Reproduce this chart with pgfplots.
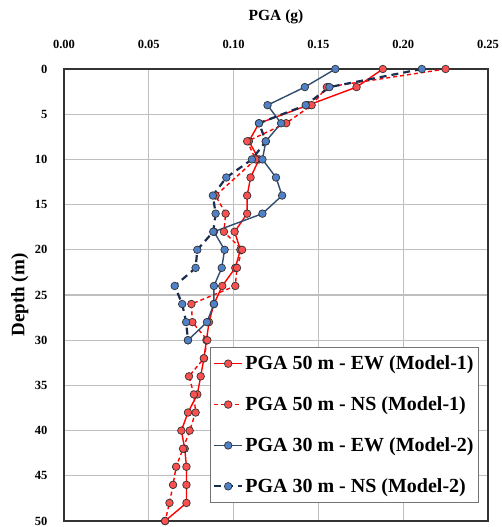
\documentclass[border=0pt]{standalone}
\usepackage{fontspec}
\setmainfont{Liberation Serif}
\usepackage{pgfplots}
\pgfplotsset{compat=1.18}
\definecolor{redline}{RGB}{255,0,0}
\definecolor{redfill}{RGB}{250,80,80}
\definecolor{bluefill}{RGB}{79,129,200}
\definecolor{blueline}{RGB}{50,76,110}
\definecolor{navyline}{RGB}{25,45,80}
\definecolor{gridgray}{RGB}{190,190,190}

\begin{document}
\begin{tikzpicture}
\begin{axis}[
    scale only axis,
    width=424pt, height=452pt,
    xmin=0, xmax=0.25, ymin=0, ymax=50,
    y dir=reverse,
    xtick={0,0.05,0.10,0.15,0.20,0.25},
    ytick={0,5,10,15,20,25,30,35,40,45,50},
    xticklabel pos=top,
    grid=major,
    grid style={gridgray, line width=1.1pt},
    major tick length=0pt,
    axis line style={black!80, line width=1.3pt},
    /pgf/number format/assume math mode=true,
    xticklabel={\pgfmathprintnumber[fixed,fixed zerofill,precision=2]{\tick}},
    ticklabel style={font=\bfseries\fontsize{12.5}{14}\selectfont},
    xticklabel style={yshift=17pt},
    yticklabel style={xshift=-13pt},
    xlabel={PGA (g)},
    ylabel={Depth (m)},
    xlabel style={at={(axis description cs:0.5,1.115)}, anchor=center,
        font=\bfseries\fontsize{15.5}{18}\selectfont},
    ylabel style={at={(axis description cs:-0.104,0.5)}, anchor=center,
        font=\bfseries\fontsize{19}{22}\selectfont},
    clip=false,
    legend style={at={(axis description cs:0.979,0.385)}, anchor=north east,
        draw=black!55, line width=1pt, fill=white,
        font=\bfseries\fontsize{20}{24}\selectfont,
        row sep=21.5pt, inner xsep=3pt, inner ysep=6.5pt},
    legend cell align=left,
    legend image code/.code={\draw[mark repeat=2,mark phase=2] plot coordinates {(0pt,0pt) (14pt,0pt) (28pt,0pt)};},
]
\addplot[redline, line width=1.4pt, mark=*, mark size=3.8pt,
    mark options={solid, fill=redfill, draw=black!80, line width=0.7pt}] coordinates {
(0.188,0) (0.1725,2) (0.144,4) (0.115,6) (0.109,8) (0.115,10) (0.110,12) (0.108,14)
(0.108,16) (0.1006,18) (0.104,20) (0.101,22) (0.0933,24) (0.0884,26) (0.0855,28)
(0.084,30) (0.0825,32) (0.0806,34) (0.0786,36) (0.0731,38) (0.0692,40) (0.0712,42)
(0.0722,44) (0.0722,46) (0.0722,48) (0.0596,50)};
\addplot[redline, line width=1.4pt, dash pattern=on 4pt off 3pt, mark=*, mark size=3.8pt,
    mark options={solid, fill=redfill, draw=black!80, line width=0.7pt}] coordinates {
(0.225,0) (0.155,2) (0.146,4) (0.131,6) (0.108,8) (0.113,10) (0.0894,14)
(0.0953,16) (0.0943,18) (0.105,20) (0.102,22) (0.101,24) (0.0751,26) (0.0757,28)
(0.0845,30) (0.0825,32) (0.0737,34) (0.0766,36) (0.0776,38) (0.0741,40) (0.0702,42)
(0.0661,44) (0.0643,46) (0.0622,48) (0.0596,50)};
\addplot[blueline, line width=1.4pt, mark=*, mark size=3.8pt,
    mark options={solid, fill=bluefill, draw=black!80, line width=0.7pt}] coordinates {
(0.160,0) (0.142,2) (0.120,4) (0.128,6) (0.119,8) (0.117,10) (0.125,12) (0.1286,14)
(0.117,16) (0.0884,18) (0.0947,20) (0.093,22) (0.0884,24) (0.0884,26) (0.0843,28)
(0.0731,30)};
\addplot[navyline, line width=2.2pt, dash pattern=on 7pt off 5pt, mark=*, mark size=3.8pt,
    mark options={solid, fill=bluefill, draw=black!80, line width=0.7pt}] coordinates {
(0.211,0) (0.1565,2) (0.1425,4) (0.115,6) (0.119,8) (0.1108,10) (0.0957,12) (0.0878,14)
(0.0894,16) (0.088,18) (0.0786,20) (0.0776,22) (0.0653,24) (0.0697,26) (0.072,28)
(0.0731,30)};
\legend{PGA 50 m - EW (Model-1), PGA 50 m - NS (Model-1), PGA 30 m - EW (Model-2), PGA 30 m - NS (Model-2)}
\end{axis}
\pgfresetboundingbox
\useasboundingbox ([shift={(-64pt,-6pt)}]current axis.south west) rectangle ([shift={(14pt,69pt)}]current axis.north east);
\end{tikzpicture}
\end{document}
